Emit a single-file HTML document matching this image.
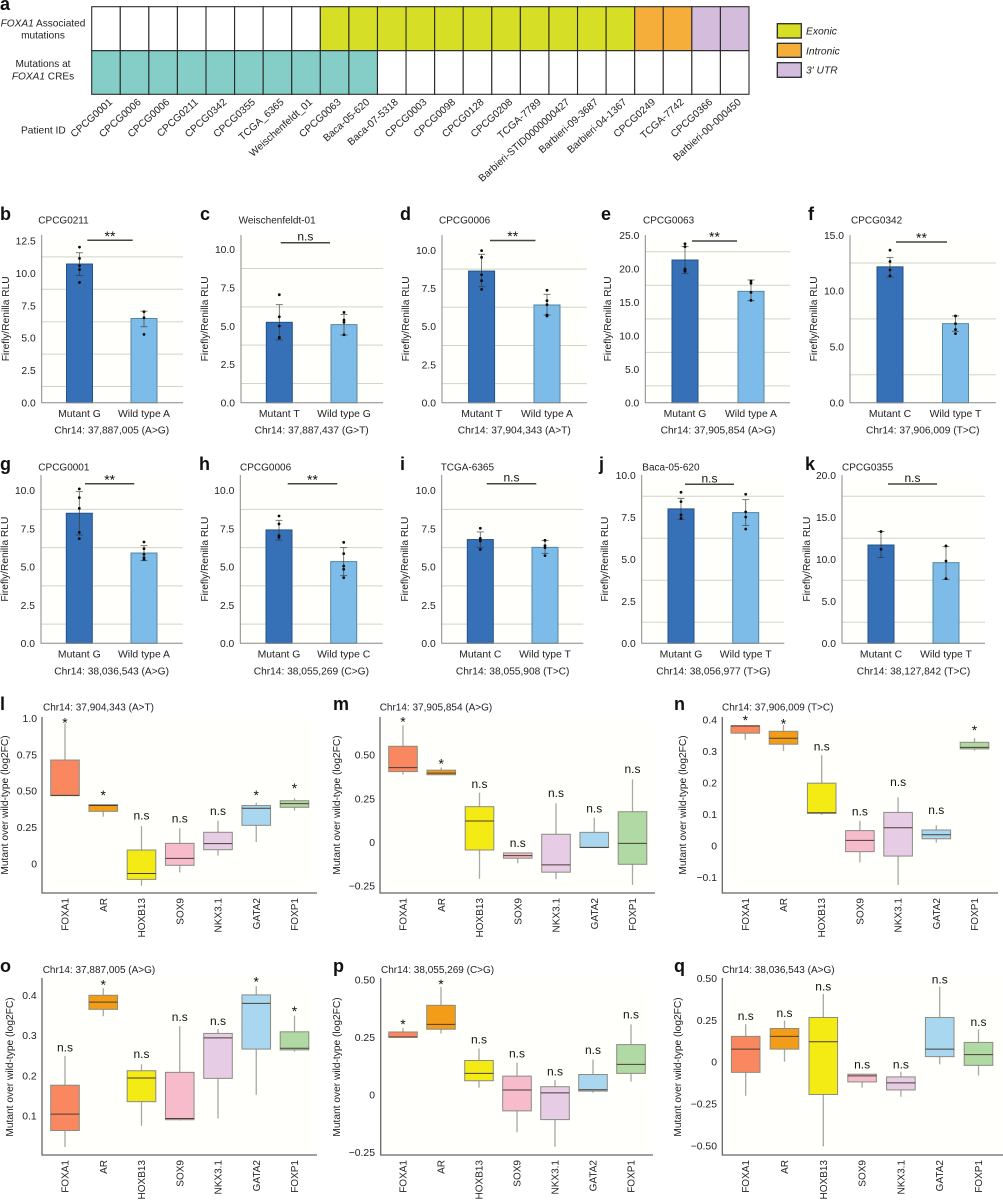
<!DOCTYPE html>
<html lang="en">
<head>
<meta charset="utf-8">
<title>FOXA1 mutations figure</title>
<style>
html,body{margin:0;padding:0;background:#fff;}
#figure{display:block;width:1003px;height:1200px;font-family:"Liberation Sans",Arial,sans-serif;fill:#222;}
</style>
</head>
<body>
<svg id="figure" xmlns="http://www.w3.org/2000/svg" width="1003" height="1200" viewBox="0 0 1003 1200"></svg>
<script>
// ---------- Panel a ----------
const patients = ["CPCG0001","CPCG0006","CPCG0006","CPCG0211","CPCG0342","CPCG0355","TCGA_6365","Weischenfeldt_01","CPCG0063","Baca-05-620","Baca-07-5318","CPCG0003","CPCG0098","CPCG0128","CPCG0208","TCGA-7789","Barbieri-STID0000000427","Barbieri-09-3687","Barbieri-04-1367","CPCG0249","TCGA-7742","CPCG0366","Barbieri-00-000450"];
const assocType = ["","","","","","","","","E","E","E","E","E","E","E","E","E","E","E","I","I","U","U"];
const creType = ["C","C","C","C","C","C","C","C","C","C","","","","","","","","","","","","",""];
const legendLabels = ["Exonic","Intronic","3' UTR"];

// ---------- Bar panels ----------
const gridAt1 = [1.25,3.75,6.25,8.75];
const ticks10 = [0,2.5,5,7.5,10];
const b_cats = ["Mutant G","Wild type A"], b_means = [10.7,6.5], b_errHigh = [11.57,7.07], b_errLow = [9.82,5.86];
const b_mutPts = [12.0,11.13,10.57,10.28,9.28], b_wtPts = [7.02,6.55,5.27];
const b_ticks = [0,2.5,5,7.5,10,12.5], b_grid = [1.25,3.75,6.25,8.75,11.25];
const c_cats = ["Mutant T","Wild type G"], c_means = [5.24,5.09], c_errHigh = [6.39,5.76], c_errLow = [4.09,4.41];
const c_mutPts = [7.04,5.6,5.0,4.26,4.22], c_wtPts = [5.89,5.39,5.24,4.43];
const d_cats = ["Mutant T","Wild type A"], d_means = [8.62,6.4], d_errHigh = [9.72,7.1], d_errLow = [7.6,5.74];
const d_mutPts = [9.96,9.52,8.38,7.99,7.42], d_wtPts = [7.36,6.68,6.42,5.74,5.68];
const e_cats = ["Mutant G","Wild type A"], e_means = [21.27,16.6], e_errHigh = [23.26,18.3], e_errLow = [19.28,15.2];
const e_mutPts = [23.7,23.26,19.93,19.78,19.6], e_wtPts = [18.14,17.8,16.45,15.26];
const e_ticks = [0,5,10,15,20,25], e_grid = [2.5,7.5,12.5,17.5,22.5];
const f_cats = ["Mutant C","Wild type T"], f_means = [12.15,7.07], f_errHigh = [13.0,7.76], f_errLow = [11.25,6.39];
const f_mutPts = [13.64,12.63,11.88,11.34], f_wtPts = [7.76,7.07,6.54,6.18];
const f_ticks = [0,5,10,15], f_grid = [2.5,7.5,12.5];
const g_cats = ["Mutant G","Wild type A"], g_means = [8.5,5.9], g_errHigh = [9.91,6.38], g_errLow = [7.08,5.4];
const g_mutPts = [10.09,9.52,8.82,7.25,6.84], g_wtPts = [6.62,6.19,5.82,5.6,5.49];
const h_cats = ["Mutant G","Wild type C"], h_means = [7.41,5.34], h_errHigh = [8.04,6.25], h_errLow = [6.75,4.42];
const h_mutPts = [8.32,7.8,7.04,6.93], h_wtPts = [6.6,5.86,5.05,4.84,4.29];
const i_cats = ["Mutant C","Wild type T"], i_means = [6.78,6.27], i_errHigh = [7.28,6.71], i_errLow = [6.27,5.88];
const i_mutPts = [7.52,6.86,6.69,6.14], i_wtPts = [6.73,6.38,6.25,5.73];
const j_cats = ["Mutant G","Wild type T"], j_means = [8.0,7.78], j_errHigh = [8.63,8.55], j_errLow = [7.36,7.02];
const j_mutPts = [8.99,8.43,7.64,7.44], j_wtPts = [8.87,7.82,7.52,6.8];
const k_cats = ["Mutant C","Wild type T"], k_means = [11.7,9.6], k_errHigh = [13.3,11.5], k_errLow = [10.2,7.6];
const k_mutPts = [13.3,11.2], k_wtPts = [11.6,9.8,7.7];
const k_ticks = [0,5,10,15,20], k_grid = [2.5,7.5,12.5,17.5];

// ---------- Box panels ----------
const factors = ["FOXA1","AR","HOXB13","SOX9","NKX3.1","GATA2","FOXP1"];
const l_high = [.965,.406,.259,.243,.296,.42,.45], l_q3 = [.713,.406,.094,.14,.216,.40,.433], l_med = [.47,.40,-.067,.037,.138,.381,.413], l_q1 = [.468,.36,-.108,-.011,.096,.264,.388], l_low = [.468,.323,-.151,-.06,.055,.149,.365];
const l_sig = ["*","*","n.s","n.s","n.s","*","*"], l_sigAt = [.99,.492,.325,.305,.355,.49,.538];
const l_ticks = [0,.25,.5,.75,1], l_tickLabels = ["0","0.25","0.50","0.75","1.0"];
const m_high = [.67,.428,.284,-.061,.223,.141,.36], m_q3 = [.55,.413,.204,-.061,.046,.057,.175], m_med = [.428,.396,.122,-.076,-.129,-.029,-.006], m_q1 = [.405,.387,-.044,-.091,-.171,-.03,-.126], m_low = [.388,.387,-.209,-.12,-.211,-.03,-.244];
const m_sig = ["*","*","n.s","n.s","n.s","n.s","n.s"], m_sigAt = [.708,.466,.327,-.011,.276,.188,.413];
const m_ticks = [-.25,0,.25,.5], m_tickLabels = ["\u22120.25","0","0.25","0.50"];
const n_high = [.384,.385,.288,.079,.154,.065,.342], n_q3 = [.382,.364,.199,.048,.106,.05,.329], n_med = [.381,.342,.105,.017,.057,.035,.313], n_q1 = [.358,.323,.103,-.019,-.033,.022,.308], n_low = [.337,.301,.098,-.053,-.125,.01,.303];
const n_sig = ["*","*","n.s","n.s","n.s","n.s","*"], n_sigAt = [.409,.398,.312,.105,.199,.111,.376];
const n_ticks = [-.1,0,.1,.2,.3,.4], n_tickLabels = ["\u22120.1","0","0.1","0.2","0.3","0.4"];
const o_high = [.249,.418,.228,.323,.316,.423,.349], o_q3 = [.176,.40,.212,.208,.305,.401,.309], o_med = [.104,.383,.194,.093,.294,.38,.268], o_q1 = [.063,.365,.135,.09,.193,.266,.264], o_low = [.022,.348,.075,.088,.093,.152,.26];
const o_sig = ["n.s","*","n.s","n.s","n.s","*","*"], o_sigAt = [.268,.434,.251,.343,.334,.441,.368];
const o_ticks = [.1,.2,.3,.4], o_tickLabels = ["0.1","0.2","0.3","0.4"];
const p_high = [.291,.47,.202,.141,.065,.154,.307], p_q3 = [.274,.39,.15,.082,.036,.089,.219], p_med = [.252,.307,.094,.022,.009,.023,.133], p_q1 = [.251,.286,.062,-.069,-.107,.017,.094], p_low = [.25,.267,.032,-.162,-.225,.01,.058];
const p_sig = ["*","*","n.s","n.s","n.s","n.s","n.s"], p_sigAt = [.32,.495,.238,.176,.098,.192,.346];
const p_ticks = [-.25,0,.25,.5], p_tickLabels = ["\u22120.25","0","0.25","0.50"];
const q_high = [.226,.248,.407,-.069,-.058,.45,.194], q_q3 = [.153,.2,.266,-.073,-.089,.266,.117], q_med = [.077,.153,.121,-.083,-.125,.077,.044], q_q1 = [-.062,.077,-.194,-.119,-.167,.032,-.02], q_low = [-.202,.002,-.504,-.153,-.208,-.014,-.081];
const q_sig = ["n.s","n.s","n.s","n.s","n.s","n.s","n.s"], q_sigAt = [.27,.286,.444,-.022,-.022,.488,.232];
const q_ticks = [-.5,-.25,0,.25,.5], q_tickLabels = ["\u22120.50","\u22120.25","0","0.25","0.50"];

// ---------- Drawing ----------
const svg = document.getElementById('figure');
const NS = 'http://www.w3.org/2000/svg';
function mk(tag, attrs, parent) {
  const node = document.createElementNS(NS, tag);
  for (const k in attrs) node.setAttribute(k, attrs[k]);
  (parent || svg).appendChild(node);
  return node;
}
function tx(str, x, y, size, attrs, parent) {
  const node = mk('text', Object.assign({x: x, y: y, 'font-size': size}, attrs || {}), parent);
  node.textContent = str;
  return node;
}
function letter(ch, x, y) {
  const t = tx(ch, x, y, 18, {'font-weight': 'bold', fill: '#111'});
  
  
}

// Panel a
(function () {
  const fills = {E: '#d6de26', I: '#f6ae3a', U: '#d3bcdc', C: '#85cdc7', '': '#ffffff'};
  const left = 91.7, cw = (749 - 91.7) / patients.length, rowY = [6.7, 50.7], rowH = [44, 43.6];
  const group = mk('g', {});
  
  
  [assocType, creType].forEach(function (row, r) {
    row.forEach(function (type, i) {
      const cell = mk('rect', {x: left + i * cw, y: rowY[r], width: cw, height: rowH[r], fill: fills[type], stroke: '#2a2a2a', 'stroke-width': 1.1}, group);
      
      
    });
  });
  patients.forEach(function (name, i) {
    const x = left + (i + 0.5) * cw + 7, y = 103;
    const t = tx(name, x, y, 10.2, {'text-anchor': 'end', transform: 'rotate(-42 ' + x + ' ' + y + ')'});
    
    
  });
  const rowLabels = mk('g', {'font-size': 10.1, 'text-anchor': 'middle'});
  
  
  const t1 = mk('text', {x: 43, y: 26.5}, rowLabels);
  mk('tspan', {'font-style': 'italic'}, t1).textContent = 'FOXA1';
  mk('tspan', {}, t1).textContent = ' Associated';
  mk('text', {x: 43, y: 38.5}, rowLabels).textContent = 'mutations';
  mk('text', {x: 43, y: 67}, rowLabels).textContent = 'Mutations at';
  const t2 = mk('text', {x: 43, y: 79.5}, rowLabels);
  mk('tspan', {'font-style': 'italic'}, t2).textContent = 'FOXA1';
  mk('tspan', {}, t2).textContent = ' CREs';
  const pid = tx('Patient ID', 21, 133.5, 10.2, {});
  
  
  const legendFill = ['E', 'I', 'U'], legendY = [23.7, 43.3, 62.7], legendH = [14.3, 14, 14.6];
  legendLabels.forEach(function (lab, i) {
    const g = mk('g', {});
    
    
    mk('rect', {x: 777.3, y: legendY[i], width: 24, height: legendH[i], fill: fills[legendFill[i]], stroke: '#2a2a2a', 'stroke-width': 1.3}, g);
    tx(lab, 806, legendY[i] + 11, 10.3, {'font-style': 'italic'}, g);
  });
  letter('a', 0, 10);
})();

function sigMark(str, x, centerY, parent) {
  const isStar = str.charAt(0) === '*';
  const t = tx(str, x, centerY + (isStar ? 7.7 : 3), isStar ? 14 : 12, {'text-anchor': 'middle', fill: '#111'}, parent);
  
  
}

function barPanel(p) {
  const g = mk('g', {});
  
  
  const yScale = function (v) { return p.y0 - (v / p.refVal) * (p.y0 - p.refPx); };
  mk('rect', {x: p.x0, y: p.top, width: p.x1 - p.x0, height: p.y0 - p.top, fill: '#fffffb'}, g);
  p.grid.forEach(function (v) {
    const line = mk('line', {x1: p.x0, x2: p.x1, y1: yScale(v), y2: yScale(v), stroke: '#d3d3c8', 'stroke-width': 1}, g);
    
    
  });
  const fills = ['#3670b7', '#7dbce8'], strokes = ['#24528a', '#56859f'];
  p.means.forEach(function (m, i) {
    const bar = mk('rect', {x: p.cx[i] - 13, y: yScale(m), width: 26, height: p.y0 - yScale(m), fill: fills[i], stroke: strokes[i], 'stroke-width': 1}, g);
    
    
    const eb = mk('g', {stroke: '#333', 'stroke-width': 0.8, opacity: 0.8}, g);
    
    
    mk('line', {x1: p.cx[i], x2: p.cx[i], y1: yScale(p.errHigh[i]), y2: yScale(p.errLow[i])}, eb);
    mk('line', {x1: p.cx[i] - 3.5, x2: p.cx[i] + 3.5, y1: yScale(p.errHigh[i]), y2: yScale(p.errHigh[i])}, eb);
    mk('line', {x1: p.cx[i] - 3.5, x2: p.cx[i] + 3.5, y1: yScale(p.errLow[i]), y2: yScale(p.errLow[i])}, eb);
    p.points[i].forEach(function (v) {
      const dot = mk('circle', {cx: p.cx[i], cy: yScale(v), r: 1.4, fill: '#0a0a0a'}, g);
      
      
    });
    const lab = tx(p.cats[i], p.cx[i], p.y0 + 14.2, 10.4, {'text-anchor': 'middle'}, g);
    
    
  });
  const axis = mk('path', {d: 'M' + p.x0 + ' ' + p.top + 'V' + p.y0 + 'H' + p.x1, fill: 'none', stroke: '#888', 'stroke-width': 1}, g);
  
  
  p.ticks.forEach(function (v) {
    const t = tx(v.toFixed(1), p.x0 - 6, yScale(v) + 3.8, 10.3, {'text-anchor': 'end'}, g);
    
    
  });
  const yc = (p.top + p.y0) / 2;
  const yt = tx('Firefly/Renilla RLU', p.labelX, yc, 10.2, {'text-anchor': 'middle', transform: 'rotate(-90 ' + p.labelX + ' ' + yc + ')'}, g);
  
  
  const title = tx(p.title, p.titleX, p.titleY, 10, {}, g);
  
  
  const chr = tx(p.chr, (p.cx[0] + p.cx[1]) / 2, p.y0 + 31, 10.2, {'text-anchor': 'middle'}, g);
  
  
  const sb = mk('line', {x1: p.sig[0], x2: p.sig[1], y1: p.sigY, y2: p.sigY, stroke: '#444', 'stroke-width': 1.5}, g);
  
  
  sigMark(p.sigText, (p.sig[0] + p.sig[1]) / 2, p.sigY - (p.sigText === 'n.s' ? 5 : 7), g);
  letter(p.id, p.letterX, p.letterY);
}

const row1 = {top: 235, y0: 402.7, letterY: 220, titleY: 223.5};
const row2 = {top: 475, y0: 643.3, letterY: 470, titleY: 470.5};
const barLayouts = [
  {id:'b', r:row1, x0:41.7, x1:183, cx:[79.5,144], refVal:12.5, refPx:240.7, sig:[87.3,132.7], sigY:240.3, titleX:38.3, labelX:9, letterX:0},
  {id:'c', r:row1, x0:241, x1:383, cx:[279.3,344], refVal:10, refPx:249.3, sig:[280.7,330], sigY:242.7, titleX:238.6, labelX:208, letterX:200},
  {id:'d', r:row1, x0:442, x1:587, cx:[481.6,547], refVal:10, refPx:250, sig:[490,535.5], sigY:240.5, titleX:439, labelX:409, letterX:400},
  {id:'e', r:row1, x0:645.3, x1:790, cx:[685,751], refVal:25, refPx:235, sig:[692,737], sigY:241, titleX:643, labelX:611, letterX:601},
  {id:'f', r:row1, x0:850, x1:996, cx:[890,955.5], refVal:15, refPx:235, sig:[896,947], sigY:242, titleX:851, labelX:817, letterX:808},
  {id:'g', r:row2, x0:41, x1:182.7, cx:[79.3,144], refVal:10, refPx:490.3, sig:[85,134.3], sigY:483.7, titleX:38.3, labelX:8, letterX:0},
  {id:'h', r:row2, x0:240.3, x1:382.7, cx:[279,343.7], refVal:10, refPx:490.3, sig:[287.7,337.3], sigY:483.7, titleX:240, labelX:208, letterX:199},
  {id:'i', r:row2, x0:441.7, x1:583.3, cx:[480.3,545], refVal:10, refPx:490.3, sig:[486.7,536.3], sigY:483.7, titleX:440.7, labelX:408, letterX:400},
  {id:'j', r:row2, x0:641.7, x1:784.3, cx:[681,745.7], refVal:10, refPx:475.3, sig:[685,734], sigY:484.3, titleX:642.3, labelX:608, letterX:599},
  {id:'k', r:row2, x0:842, x1:985, cx:[881,946], refVal:20, refPx:475.3, sig:[888,937], sigY:484, titleX:842, labelX:810, letterX:805}
];
const barContent = {
  b:{title:'CPCG0211', chr:'Chr14: 37,887,005 (A>G)', cats:b_cats, means:b_means, errHigh:b_errHigh, errLow:b_errLow, points:[b_mutPts,b_wtPts], ticks:b_ticks, grid:b_grid, sigText:'**'},
  c:{title:'Weischenfeldt-01', chr:'Chr14: 37,887,437 (G>T)', cats:c_cats, means:c_means, errHigh:c_errHigh, errLow:c_errLow, points:[c_mutPts,c_wtPts], ticks:ticks10, grid:gridAt1, sigText:'n.s'},
  d:{title:'CPCG0006', chr:'Chr14: 37,904,343 (A>T)', cats:d_cats, means:d_means, errHigh:d_errHigh, errLow:d_errLow, points:[d_mutPts,d_wtPts], ticks:ticks10, grid:gridAt1, sigText:'**'},
  e:{title:'CPCG0063', chr:'Chr14: 37,905,854 (A>G)', cats:e_cats, means:e_means, errHigh:e_errHigh, errLow:e_errLow, points:[e_mutPts,e_wtPts], ticks:e_ticks, grid:e_grid, sigText:'**'},
  f:{title:'CPCG0342', chr:'Chr14: 37,906,009 (T>C)', cats:f_cats, means:f_means, errHigh:f_errHigh, errLow:f_errLow, points:[f_mutPts,f_wtPts], ticks:f_ticks, grid:f_grid, sigText:'**'},
  g:{title:'CPCG0001', chr:'Chr14: 38,036,543 (A>G)', cats:g_cats, means:g_means, errHigh:g_errHigh, errLow:g_errLow, points:[g_mutPts,g_wtPts], ticks:ticks10, grid:gridAt1, sigText:'**'},
  h:{title:'CPCG0006', chr:'Chr14: 38,055,269 (C>G)', cats:h_cats, means:h_means, errHigh:h_errHigh, errLow:h_errLow, points:[h_mutPts,h_wtPts], ticks:ticks10, grid:gridAt1, sigText:'**'},
  i:{title:'TCGA-6365', chr:'Chr14: 38,055,908 (T>C)', cats:i_cats, means:i_means, errHigh:i_errHigh, errLow:i_errLow, points:[i_mutPts,i_wtPts], ticks:ticks10, grid:gridAt1, sigText:'n.s'},
  j:{title:'Baca-05-620', chr:'Chr14: 38,056,977 (T>G)', cats:j_cats, means:j_means, errHigh:j_errHigh, errLow:j_errLow, points:[j_mutPts,j_wtPts], ticks:ticks10, grid:gridAt1, sigText:'n.s'},
  k:{title:'CPCG0355', chr:'Chr14: 38,127,842 (T>C)', cats:k_cats, means:k_means, errHigh:k_errHigh, errLow:k_errLow, points:[k_mutPts,k_wtPts], ticks:k_ticks, grid:k_grid, sigText:'n.s'}
};
barLayouts.forEach(function (l) {
  barPanel(Object.assign({}, l, barContent[l.id], {top: l.r.top, y0: l.r.y0, letterY: l.r.letterY, titleY: l.r.titleY}));
});

function boxPanel(p) {
  const g = mk('g', {});
  
  
  const yScale = function (v) { return p.pxA + (v - p.valA) * (p.pxB - p.pxA) / (p.valB - p.valA); };
  mk('rect', {x: p.x0, y: p.top, width: p.x1 - p.x0, height: p.bottom - p.top, fill: '#fffffb'}, g);
  const fills = ['#f9875f', '#f39c17', '#f4ea14', '#f6bccb', '#e6cce4', '#a9d7f0', '#b0d9a4'];
  factors.forEach(function (name, i) {
    const cx = p.c0 + i * p.dx;
    const box = mk('g', {}, g);
    
    
    mk('line', {x1: cx, x2: cx, y1: yScale(p.high[i]), y2: yScale(p.low[i]), stroke: '#a8a8a0', 'stroke-width': 1.3}, box);
    mk('rect', {x: cx - 14.3, y: yScale(p.q3[i]), width: 28.6, height: Math.max(0.5, yScale(p.q1[i]) - yScale(p.q3[i])), fill: fills[i], stroke: '#8b8b80', 'stroke-width': 1}, box);
    mk('line', {x1: cx - 14.3, x2: cx + 14.3, y1: yScale(p.med[i]), y2: yScale(p.med[i]), stroke: '#4a3c34', 'stroke-width': 1}, box);
    sigMark(p.sig[i], cx, yScale(p.sigAt[i]), g);
    const ly = p.bottom + 5;
    const lab = tx(name, cx + 3.5, ly, 10, {'text-anchor': 'end', transform: 'rotate(-90 ' + (cx + 3.5) + ' ' + ly + ')'}, g);
    
    
  });
  const axis = mk('path', {d: 'M' + p.x0 + ' ' + p.top + 'V' + p.bottom + 'H' + p.x1, fill: 'none', stroke: '#666', 'stroke-width': 1.3}, g);
  
  
  p.ticks.forEach(function (v, i) {
    const t = tx(p.tickLabels[i], p.tickRight, yScale(v) + 3.7, 10.4, {'text-anchor': 'end'}, g);
    
    
  });
  const yt = tx('Mutant over wild-type (log2FC)', p.labelX, p.labelY, 10.2, {'text-anchor': 'middle', transform: 'rotate(-90 ' + p.labelX + ' ' + p.labelY + ')'}, g);
  
  
  const title = tx(p.title, p.titleX, p.titleY, 10, {}, g);
  
  
  letter(p.id, p.letterX, p.letterY);
}

boxPanel({id:'l', title:'Chr14: 37,904,343 (A>T)', high:l_high, q3:l_q3, med:l_med, q1:l_q1, low:l_low, sig:l_sig, sigAt:l_sigAt, ticks:l_ticks, tickLabels:l_tickLabels,
  x0:42, x1:317, top:717, bottom:893, c0:65, dx:38.25, valA:0, pxA:863.7, valB:1, pxB:718.3, tickRight:37, labelX:8, labelY:805, titleX:43, titleY:710.5, letterX:0, letterY:710});
boxPanel({id:'m', title:'Chr14: 37,905,854 (A>G)', high:m_high, q3:m_q3, med:m_med, q1:m_q1, low:m_low, sig:m_sig, sigAt:m_sigAt, ticks:m_ticks, tickLabels:m_tickLabels,
  x0:380, x1:655, top:717, bottom:893, c0:403, dx:38.25, valA:0, pxA:842.3, valB:.5, pxB:755, tickRight:375, labelX:340, labelY:805, titleX:379.7, titleY:710.5, letterX:333, letterY:710});
boxPanel({id:'n', title:'Chr14: 37,906,009 (T>C)', high:n_high, q3:n_q3, med:n_med, q1:n_q1, low:n_low, sig:n_sig, sigAt:n_sigAt, ticks:n_ticks, tickLabels:n_tickLabels,
  x0:722.3, x1:998, top:717, bottom:893, c0:745.3, dx:38.2, valA:0, pxA:845.7, valB:.4, pxB:720, tickRight:717, labelX:686, labelY:805, titleX:722, titleY:710.5, letterX:674, letterY:710});
boxPanel({id:'o', title:'Chr14: 37,887,005 (A>G)', high:o_high, q3:o_q3, med:o_med, q1:o_q1, low:o_low, sig:o_sig, sigAt:o_sigAt, ticks:o_ticks, tickLabels:o_tickLabels,
  x0:42, x1:317, top:978, bottom:1155, c0:65, dx:38.25, valA:.1, pxA:1115.7, valB:.4, pxB:995.3, tickRight:36.7, labelX:13, labelY:1067, titleX:42.7, titleY:973, letterX:0, letterY:972});
boxPanel({id:'p', title:'Chr14: 38,055,269 (C>G)', high:p_high, q3:p_q3, med:p_med, q1:p_q1, low:p_low, sig:p_sig, sigAt:p_sigAt, ticks:p_ticks, tickLabels:p_tickLabels,
  x0:380.7, x1:653, top:978, bottom:1155, c0:403, dx:38, valA:0, pxA:1095, valB:.5, pxB:980, tickRight:375, labelX:340, labelY:1067, titleX:381, titleY:973, letterX:333, letterY:972});
boxPanel({id:'q', title:'Chr14: 38,036,543 (A>G)', high:q_high, q3:q_q3, med:q_med, q1:q_q1, low:q_low, sig:q_sig, sigAt:q_sigAt, ticks:q_ticks, tickLabels:q_tickLabels,
  x0:722.3, x1:1003, top:978, bottom:1155, c0:745.7, dx:38.8, valA:0, pxA:1062, valB:.5, pxB:978.3, tickRight:717, labelX:681, labelY:1067, titleX:722, titleY:973, letterX:674, letterY:972});
</script>
</body>
</html>
